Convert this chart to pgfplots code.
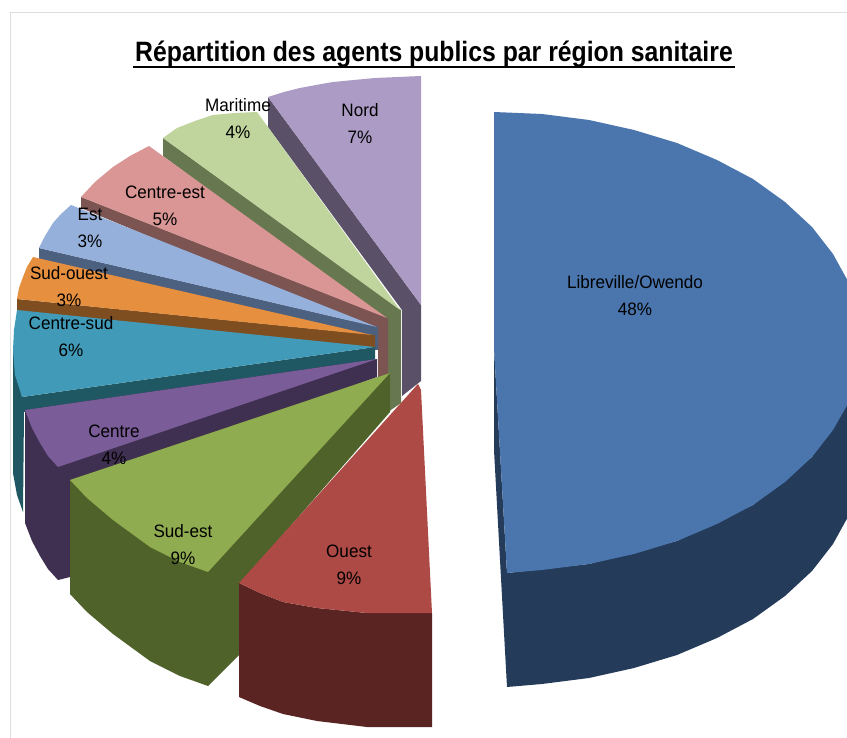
\documentclass[border=0pt]{standalone}
\usepackage{pgfplots}
\pgfplotsset{compat=1.18}
\usepackage{fontspec}
\setmainfont{Liberation Sans}
\definecolor{cBlue}{HTML}{4A76AD}\definecolor{dBlue}{HTML}{243B5A}
\definecolor{cNord}{HTML}{AC9CC5}\definecolor{dNord}{HTML}{5A5068}
\definecolor{cMar}{HTML}{BFD59D}\definecolor{dMar}{HTML}{677850}
\definecolor{cCE}{HTML}{D99694}\definecolor{dCE}{HTML}{7C5552}
\definecolor{cEst}{HTML}{95B0DB}\definecolor{dEst}{HTML}{4C6080}
\definecolor{cSO}{HTML}{E68F3F}\definecolor{dSO}{HTML}{7F4E20}
\definecolor{cCS}{HTML}{419BB8}\definecolor{dCS}{HTML}{1F5763}
\definecolor{cC}{HTML}{7A5C98}\definecolor{dC}{HTML}{3F3051}
\definecolor{cSE}{HTML}{90AC50}\definecolor{dSE}{HTML}{4F6229}
\definecolor{cO}{HTML}{AD4A45}\definecolor{dO}{HTML}{5A2423}
\newcommand{\lab}[4]{\node[align=center,text=black,inner sep=0pt,xscale=0.95,font=\fontsize{18}{27}\selectfont] at (axis cs:#1,#2) {#3\\#4};}
\begin{document}
\begin{tikzpicture}
\begin{axis}[
  scale only axis, width=847pt, height=738pt,
  xmin=0, xmax=847, ymin=0, ymax=738, y dir=reverse,
  hide axis, no markers, clip=true,
  every axis plot/.append style={draw=none, line width=0pt}
]
% page
\addplot[fill=white] coordinates {(0,0)(847,0)(847,738)(0,738)} -- cycle;
\addplot[draw=black!13,line width=1pt] coordinates {(847,13)(10,13)(10,738)};
% Nord
\addplot[fill=dNord] coordinates {(268,97)(268,127)(402,310)(402,396)(421,381)(421,305)} -- cycle;
\addplot[fill=cNord] coordinates {(268,97)(284,92)(300,88)(316,85)(333,82)(354,80)(375,78)(398,77)(421,76)(421,305)} -- cycle;
% Maritime
\addplot[fill=dMar] coordinates {(163,138)(163,156)(388,322)(388,412)(401,403)(401,310)} -- cycle;
\addplot[fill=cMar] coordinates {(163,138)(177,128)(195,121)(213,115)(235,113)(257,112)(400,310)} -- cycle;
% Centre-est
\addplot[fill=dCE] coordinates {(81,197)(81,208)(378,332)(378,378)(388,378)(388,318)} -- cycle;
\addplot[fill=cCE] coordinates {(149,146)(130,156)(113,167)(95,182)(81,197)(387,318)} -- cycle;
% Est
\addplot[fill=dEst] coordinates {(39,248)(39,259)(375,340)(375,350)(378,350)(378,327)} -- cycle;
\addplot[fill=cEst] coordinates {(71,205)(61,214)(53,223)(45,236)(39,248)(377,327)} -- cycle;
% Sud-ouest
\addplot[fill=dSO] coordinates {(17,299)(17,311)(375,348)(375,335)} -- cycle;
\addplot[fill=cSO] coordinates {(33,257)(27,267)(23,277)(19,288)(17,299)(372,335)} -- cycle;
% Centre-sud
\addplot[fill=dCS] coordinates {(13,350)(13,473)(17,495)(23,512)(24,412)(375,361)(375,347)(22,397)} -- cycle;
\addplot[fill=cCS] coordinates {(17,310)(14,330)(13,350)(15,375)(22,397)(375,347)} -- cycle;
% Centre
\addplot[fill=dC] coordinates {(25,410)(25,523)(32,541)(40,556)(48,569)(58,580)(70,577)(70,486)(377,377)(377,359)} -- cycle;
\addplot[fill=cC] coordinates {(25,410)(32,428)(40,443)(48,456)(58,467)(377,359)} -- cycle;
% Sud-est
\addplot[fill=dSE] coordinates {(70,480)(70,594)(87,612)(113,634)(150,661)(180,676)(208,686)(239,655)(239,585)(390,412)(390,373)} -- cycle;
\addplot[fill=cSE] coordinates {(70,480)(87,498)(113,520)(150,547)(180,562)(208,572)(390,373)} -- cycle;
% Ouest
\addplot[fill=dO] coordinates {(239,583)(239,697)(260,706)(283,714)(317,721)(367,727)(432,727)(432,613)(367,613)(317,608)(283,602)(260,593)} -- cycle;
\addplot[fill=cO] coordinates {(239,583)(260,593)(283,602)(317,608)(367,613)(432,613)(421,390)(418,384)} -- cycle;
% Libreville/Owendo
\addplot[fill=dBlue] coordinates {(494,348)(494,450)(500,560)(507,687)(542,684)(589,678)(634,668)(677,655)(717,638)(753,619)(785,596)(812,571)(833,544)(849,515)(858,486)(861,456)(861,342)(848,401)(812,457)(753,505)(677,541)(589,564)(507,573)} -- cycle;
\addplot[fill=cBlue] coordinates {(494,112)(542,114)(589,120)(634,130)(677,143)(717,160)(753,179)(785,202)(812,227)(833,254)(849,283)(858,312)(861,342)(858,372)(849,402)(833,430)(812,457)(785,482)(753,505)(717,524)(677,541)(634,554)(589,564)(542,570)(507,573)(494,348)} -- cycle;
% labels
\lab{360}{124}{Nord}{7\%}
\lab{238}{119}{Maritime}{4\%}
\lab{165}{206}{Centre-est}{5\%}
\lab{90}{228}{Est}{3\%}
\lab{69}{287}{Sud-ouest}{3\%}
\lab{71}{337}{Centre-sud}{6\%}
\lab{114}{445}{Centre}{4\%}
\lab{183}{545}{Sud-est}{9\%}
\lab{349}{565}{Ouest}{9\%}
\lab{635}{296}{Libreville/Owendo}{48\%}
\node[inner sep=0pt,xscale=0.885,anchor=base,font=\bfseries\fontsize{28}{30}\selectfont,text=black] at (axis cs:434,62) {Répartition des agents publics par région sanitaire};
\addplot[draw=black,line width=2.6pt] coordinates {(133,67)(735,67)};
\end{axis}
\end{tikzpicture}
\end{document}
